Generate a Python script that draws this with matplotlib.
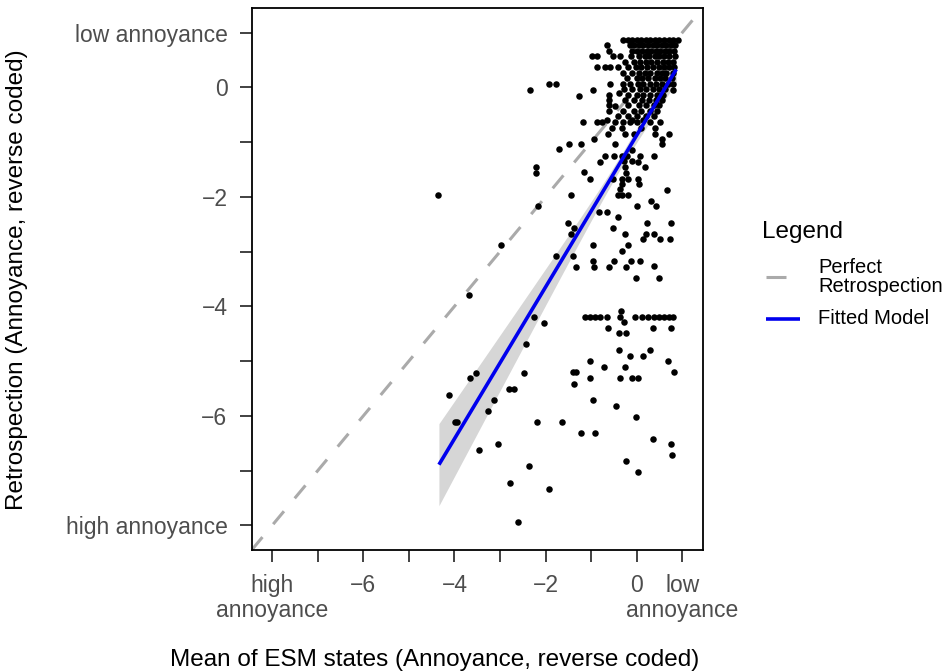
import matplotlib
matplotlib.use('Agg')
import matplotlib.pyplot as plt
import numpy as np
from matplotlib.lines import Line2D

plt.rcParams['font.family'] = ['Liberation Sans', 'DejaVu Sans']

# ---------------- data ----------------
# dense upper-right cluster (mean ESM state, retrospection)
points_upper = [
    (-0.30, 0.87), (-0.20, 0.87), (-0.10, 0.87), (0.00, 0.87), (0.10, 0.87), (0.20, 0.87),
    (0.30, 0.87), (0.40, 0.87), (0.50, 0.87), (0.60, 0.87), (0.70, 0.87), (0.80, 0.87), (0.90, 0.87),
    (-0.66, 0.77), (-0.15, 0.77), (-0.05, 0.77), (0.05, 0.77), (0.15, 0.77), (0.25, 0.77),
    (0.35, 0.77), (0.45, 0.77), (0.55, 0.77), (0.65, 0.77), (0.75, 0.77), (0.85, 0.77),
    (-0.61, 0.67), (-0.10, 0.67), (0.00, 0.67), (0.12, 0.67), (0.22, 0.67), (0.32, 0.67),
    (0.42, 0.67), (0.52, 0.67), (0.62, 0.67), (0.72, 0.67), (0.82, 0.67),
    (-0.98, 0.57), (-0.87, 0.57), (-0.52, 0.57), (-0.36, 0.57), (-0.12, 0.57), (0.05, 0.57),
    (0.18, 0.57), (0.28, 0.57), (0.40, 0.57), (0.50, 0.57), (0.60, 0.57), (0.70, 0.57), (0.85, 0.57),
    (-0.25, 0.47), (-0.05, 0.47), (0.08, 0.47), (0.20, 0.47), (0.32, 0.47), (0.45, 0.47),
    (0.58, 0.47), (0.68, 0.47), (0.80, 0.47),
    (-0.88, 0.37), (-0.69, 0.37), (-0.58, 0.37), (-0.42, 0.37), (-0.20, 0.37), (-0.02, 0.37),
    (0.10, 0.37), (0.22, 0.37), (0.35, 0.37), (0.48, 0.37), (0.60, 0.37), (0.72, 0.37), (0.82, 0.37),
    (-0.30, 0.27), (-0.10, 0.27), (0.05, 0.27), (0.18, 0.27), (0.30, 0.27), (0.45, 0.27),
    (0.55, 0.27), (0.65, 0.27), (0.80, 0.27),
    (-0.22, 0.17), (0.00, 0.17), (0.12, 0.17), (0.25, 0.17), (0.40, 0.17), (0.52, 0.17),
    (0.62, 0.17), (0.78, 0.17),
    (-1.92, 0.07), (-1.78, 0.07), (-0.58, 0.07), (-0.30, 0.07), (-0.15, 0.07), (0.02, 0.07),
    (0.15, 0.07), (0.30, 0.07), (0.42, 0.07), (0.55, 0.07), (0.68, 0.07), (0.80, 0.07),
    (-2.35, -0.04), (-0.96, -0.04), (-0.28, -0.03), (-0.10, -0.03), (0.08, -0.03), (0.20, -0.03),
    (0.35, -0.03), (0.50, -0.03), (0.62, -0.03), (0.80, -0.05),
    (-1.27, -0.15), (-0.61, -0.13), (-0.39, -0.11), (-0.20, -0.13), (0.00, -0.13), (0.15, -0.13),
    (0.30, -0.13), (0.45, -0.13), (0.58, -0.13),
    (-0.61, -0.23), (-0.25, -0.23), (-0.05, -0.23), (0.12, -0.23), (0.28, -0.23), (0.42, -0.23),
    (0.55, -0.23),
    (-0.61, -0.33), (-0.47, -0.34), (-0.18, -0.33), (0.05, -0.33), (0.20, -0.33), (0.38, -0.33),
    (0.50, -0.33),
    (-0.61, -0.43), (-0.30, -0.43), (-0.05, -0.43), (0.10, -0.43), (0.30, -0.43), (0.45, -0.43),
    (-0.40, -0.53), (-0.20, -0.53), (0.00, -0.53), (0.20, -0.53), (0.38, -0.53),
    (-0.65, -0.59), (-0.10, -0.59), (0.15, -0.59),
    (-1.17, -0.64), (-0.86, -0.64), (-0.75, -0.64), (-0.47, -0.64), (-0.29, -0.64),
    (-0.14, -0.64), (0.01, -0.64), (0.30, -0.64), (0.52, -0.64),
    (-0.54, -0.74), (-0.32, -0.74), (0.10, -0.74), (0.41, -0.74),
    (-0.62, -0.86), (-0.25, -0.86), (-0.05, -0.86), (0.41, -0.86), (0.72, -0.86),
    (-0.93, -0.95), (0.56, -0.95), (-1.23, -1.04), (-1.49, -1.04), (-0.47, -1.04),
    (0.56, -1.04), (-1.70, -1.13),
]

# middle band of points
points_middle = [
    (-0.69, -1.25), (-0.50, -1.25), (-0.32, -1.26), (-0.21, -1.25), (-0.10, -1.15),
    (0.08, -1.25), (0.39, -1.26), (-0.80, -1.36), (-0.28, -1.35), (-0.10, -1.35), (0.04, -1.36),
    (0.19, -1.46), (-0.25, -1.46), (-0.23, -1.56), (-1.16, -1.55), (-1.03, -1.67),
    (-0.52, -1.67), (-0.32, -1.67), (-0.18, -1.67), (0.03, -1.67), (0.06, -1.76), (-0.32, -1.76),
    (-0.37, -1.86), (-0.42, -1.96), (-0.32, -1.96), (-0.19, -1.96), (-1.45, -1.96), (0.67, -1.87),
    (0.32, -2.07), (0.43, -2.16), (0.01, -2.16), (-0.83, -2.27), (-0.65, -2.27), (-0.40, -2.37),
    (-1.50, -2.47), (-1.38, -2.57), (-1.45, -2.67), (-0.52, -2.57), (0.23, -2.47), (0.76, -2.47),
    (-0.25, -2.67), (0.21, -2.67), (0.39, -2.67), (0.14, -2.77), (0.52, -2.77), (0.74, -2.77),
    (-0.96, -2.88), (-0.18, -2.88), (-0.32, -2.98), (-1.77, -3.08), (-1.40, -3.08),
    (-0.96, -3.18), (-0.49, -3.18), (-0.12, -3.18), (0.08, -3.18), (0.39, -3.27),
    (-1.33, -3.28), (-0.94, -3.28), (-0.61, -3.28), (-0.23, -3.28), (-0.01, -3.49), (0.50, -3.49),
    (-1.13, -4.19), (-1.02, -4.19), (-0.91, -4.19), (-0.81, -4.19), (-0.65, -4.19), (-0.36, -4.19),
    (-0.04, -4.19), (0.12, -4.19), (0.26, -4.19), (0.37, -4.19), (0.48, -4.19), (0.59, -4.19),
    (0.70, -4.19), (0.79, -4.19), (-0.34, -4.08), (-0.28, -4.29),
    (-0.63, -4.40), (0.36, -4.40), (0.76, -4.40), (-0.38, -4.49), (-0.23, -4.49),
    (-0.39, -4.80), (0.29, -4.80), (-0.15, -4.90), (0.15, -4.90), (-1.03, -5.00), (0.69, -5.00),
    (-0.72, -5.10), (-0.25, -5.10), (-1.40, -5.20), (-1.34, -5.20), (0.83, -5.20),
    (-1.02, -5.30), (-0.36, -5.30), (-0.10, -5.30), (0.04, -5.30), (-1.38, -5.41),
    (-0.96, -5.71), (-0.45, -5.82), (-0.01, -6.02), (-1.64, -6.12), (-1.23, -6.32), (-0.92, -6.32),
    (0.35, -6.42), (0.75, -6.52), (0.77, -6.72), (-0.23, -6.82), (0.02, -7.03),
]

# sparse points to the left
points_left = [
    (-4.36, -1.97), (-3.68, -3.79), (-2.97, -2.88), (-2.17, -2.17), (-2.22, -1.46), (-2.22, -1.56),
    (-2.26, -4.20), (-2.04, -4.30), (-2.42, -4.69), (-3.53, -5.21), (-3.65, -5.31), (-2.47, -5.21),
    (-2.81, -5.51), (-2.70, -5.51), (-4.11, -5.61), (-3.14, -5.71), (-3.26, -5.92),
    (-3.98, -6.12), (-3.95, -6.12), (-2.18, -6.12), (-3.05, -6.52), (-3.46, -6.62),
    (-2.37, -6.92), (-2.79, -7.23), (-1.93, -7.33), (-2.60, -7.94),
]

fit_intercept = -0.876
fit_slope = 1.386
fit_x_min, fit_x_max = -4.34, 0.87
ci_center, ci_min_half, ci_spread = -0.30, 0.12, 0.183

axis_ticks = [-8, -7, -6, -5, -4, -3, -2, -1, 0, 1]
x_tick_labels = ['high\nannoyance', '', '\u22126', '', '\u22124', '', '\u22122', '', '0', 'low\nannoyance']
y_tick_labels = ['high annoyance', '', '\u22126', '', '\u22124', '', '\u22122', '', '0', 'low annoyance']
axis_limits = (-8.45, 1.45)

# ---------------- figure ----------------
W, H = 951, 672
fig = plt.figure(figsize=(W / 100, H / 100), dpi=100)
ax = fig.add_axes([251.7 / W, 122 / H, 451 / W, 542 / H])

pts = np.array(points_upper + points_middle + points_left)

# perfect retrospection line
ax.plot(axis_limits, axis_limits, color='#AAAAAA', lw=2.2, linestyle=(0, (5.5, 5.5)),
        solid_capstyle='butt', dash_capstyle='butt', zorder=1)

# fitted model with CI ribbon
xf = np.linspace(fit_x_min, fit_x_max, 200)
yf = fit_intercept + fit_slope * xf
half = np.sqrt(ci_min_half ** 2 + ci_spread ** 2 * (xf - ci_center) ** 2)
ax.fill_between(xf, yf - half, yf + half, color='#D6D6D6', lw=0, zorder=2)

ax.scatter(pts[:, 0], pts[:, 1], s=22, color='black', lw=0, zorder=3)
ax.plot(xf, yf, color='#0000EE', lw=2.6, zorder=4, solid_capstyle='butt')

ax.set_xlim(axis_limits)
ax.set_ylim(axis_limits)
ax.set_xticks(axis_ticks)
ax.set_xticklabels(x_tick_labels, linespacing=1.1)
ax.set_yticks(axis_ticks)
ax.set_yticklabels(y_tick_labels)
ax.tick_params(axis='both', length=8.5, width=1.3, color='#333333', labelcolor='#4D4D4D',
               labelsize=16.5, direction='out')
ax.tick_params(axis='x', pad=9)
ax.tick_params(axis='y', pad=9)
for sp in ax.spines.values():
    sp.set_linewidth(1.3)
    sp.set_color('black')

fig.text(435 / W, 1 - 660 / H, 'Mean of ESM states (Annoyance, reverse coded)',
         ha='center', va='center', fontsize=17.5)
fig.text(17 / W, 1 - 280 / H, 'Retrospection (Annoyance, reverse coded)',
         ha='center', va='center', rotation=90, fontsize=17.5)

# legend
fig.text(762 / W, 1 - 232 / H, 'Legend', ha='left', va='center', fontsize=17.5)
fig.add_artist(Line2D([766 / W, 786 / W], [1 - 277 / H, 1 - 277 / H], color='#AAAAAA', lw=2.2,
                      transform=fig.transFigure, solid_capstyle='butt'))
fig.text(818 / W, 1 - 277 / H, 'Perfect\nRetrospection', ha='left', va='center',
         fontsize=14.5, linespacing=0.95)
fig.add_artist(Line2D([766 / W, 800 / W], [1 - 319 / H, 1 - 319 / H], color='#0000EE', lw=2.6,
                      transform=fig.transFigure, solid_capstyle='butt'))
fig.text(818 / W, 1 - 319 / H, 'Fitted Model', ha='left', va='center', fontsize=14.5)

fig.savefig('out.png', dpi=100)
